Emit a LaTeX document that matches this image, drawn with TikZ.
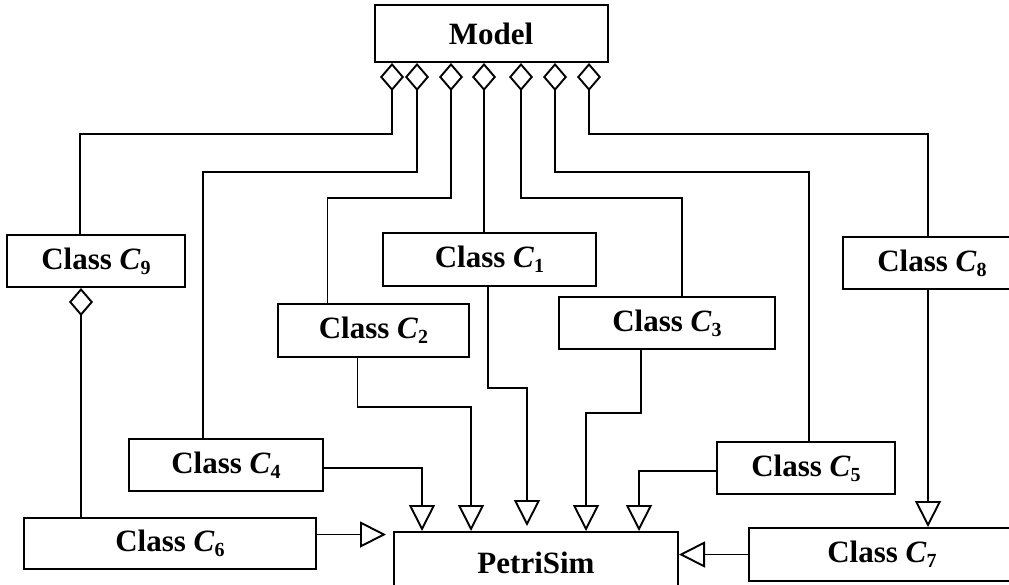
\documentclass[tikz,border=0pt]{standalone}
\usepackage{fontspec}
\setmainfont{Liberation Serif}
\usepackage{tikz}
\usetikzlibrary{shapes,arrows.meta}

\newcommand{\cls}[1]{Class \textit{C}\raisebox{-5pt}{\fontsize{20}{20}\selectfont #1}}

\begin{document}
\begin{tikzpicture}[x=1pt,y=1pt,yscale=-1,xscale=1,
    box/.style={draw, line width=2pt, inner sep=0pt, minimum height=52pt,
      font=\bfseries\fontsize{31}{36}\selectfont},
    agg/.style={line width=1.9pt, {Diamond[open,length=28pt,width=24pt]}-},
    gen/.style={line width=1.9pt, -{Triangle[open,length=26pt,width=26pt]}}]
  \useasboundingbox (0,0) rectangle (1009,584);
  \clip (0,0) rectangle (1009,584);

  % boxes
  \node[box, minimum width=233pt, minimum height=57pt] (model) at (491,33.5) {Model};
  \node[box, minimum width=178pt] (c9) at (96,261) {\cls{9}};
  \node[box, minimum width=213pt, minimum height=53pt] (c1) at (489.5,259.5) {\cls{1}};
  \node[box, minimum width=191pt, minimum height=53pt] (c2) at (373.5,330.5) {\cls{2}};
  \node[box, minimum width=216pt] (c3) at (667,323) {\cls{3}};
  \node[box, minimum width=178pt] (c8) at (932,263) {\cls{8}};
  \node[box, minimum width=194pt] (c4) at (226,465) {\cls{4}};
  \node[box, minimum width=178pt] (c5) at (806,468) {\cls{5}};
  \node[box, minimum width=292pt, minimum height=51pt] (c6) at (170,543.5) {\cls{6}};
  \node[box, minimum width=266pt, minimum height=53pt] (c7) at (882,554.5) {\cls{7}};
  \node[box, minimum width=284pt, minimum height=62pt] (petri) at (536,563) {PetriSim};

  % aggregation from Model
  \draw[agg] ([xshift=-99pt]model.south) -- ++(0,71) -| ([xshift=-16pt]c9.north);
  \draw[agg] ([xshift=-74pt]model.south) -- ++(0,109) -| ([xshift=-23pt]c4.north);
  \draw[agg] ([xshift=-40pt]model.south) -- ++(0,135) -| ([xshift=-46pt]c2.north);
  \draw[agg] ([xshift=-7pt]model.south) -- ([xshift=-7pt]model.south |- c1.north);
  \draw[agg] ([xshift=30pt]model.south) -- ++(0,135) -| ([xshift=15pt]c3.north);
  \draw[agg] ([xshift=64pt]model.south) -- ++(0,109) -| ([xshift=3pt]c5.north);
  \draw[agg] ([xshift=98pt]model.south) -- ++(0,71) -| ([xshift=-4pt]c8.north);
  \draw[agg] ([xshift=-15pt]c9.south) -- ([xshift=-15pt]c9.south |- c6.north);

  % generalization to PetriSim
  \draw[gen] ([yshift=3pt]c4.east) -| ([xshift=-114pt]petri.north);
  \draw[gen] ([xshift=-16pt]c2.south) -- ++(0,49) -| ([xshift=-65pt]petri.north);
  \draw[gen, shorten >=5pt] ([xshift=-1.5pt]c1.south) -- ++(0,101) -| ([xshift=-9pt]petri.north);
  \draw[gen] ([xshift=-26pt]c3.south) -- ++(0,63) -| ([xshift=50pt]petri.north);
  \draw[gen] ([yshift=3pt]c5.west) -| ([xshift=103pt]petri.north);
  \draw[gen, shorten >=7pt] ([yshift=-9pt]c6.east) -- ([yshift=-9pt]c6.east -| petri.west);
  \draw[gen] (c7.west) -- (c7.west -| petri.east);
  \draw[gen] ([xshift=-4pt]c8.south) -- ([xshift=-4pt]c8.south |- c7.north);
\end{tikzpicture}
\end{document}
